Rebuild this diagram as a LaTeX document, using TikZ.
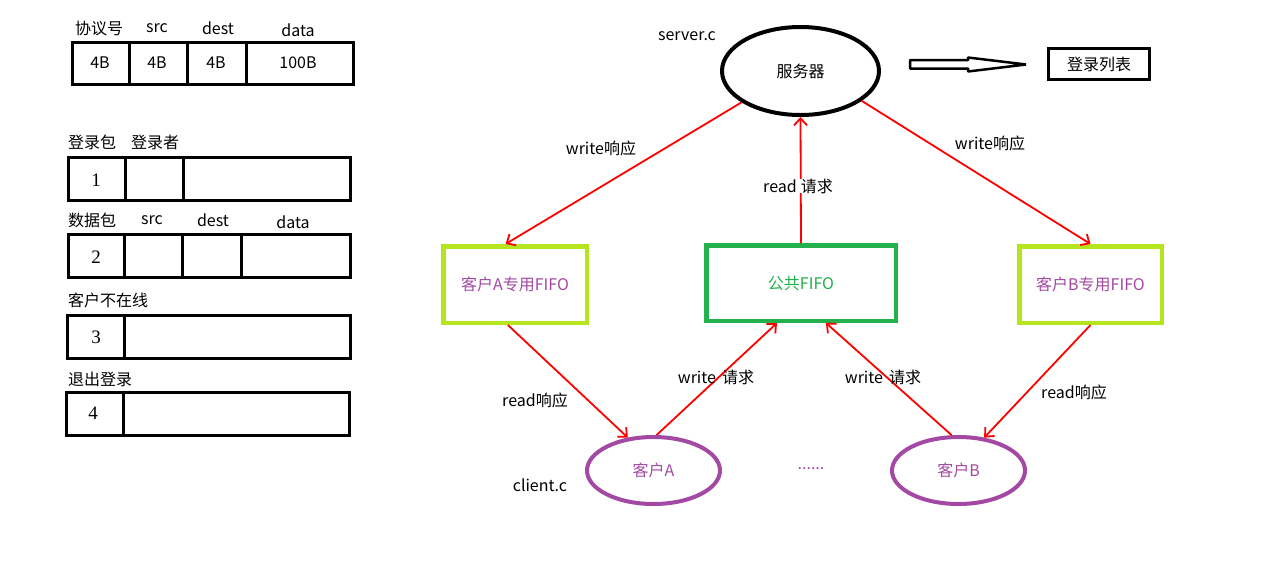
\documentclass[tikz,border=0pt]{standalone}
\usepackage{fontspec}
\setmainfont{Noto Sans CJK SC}
\newfontfamily\serifdigits{Liberation Serif}
\usetikzlibrary{shapes.geometric,arrows.meta}
\definecolor{plime}{HTML}{B5E61D}
\definecolor{pgreen}{HTML}{22B14C}
\definecolor{ppurple}{HTML}{A349A4}
\newcommand{\tabdigit}[1]{{\serifdigits\fontsize{19}{20}\selectfont #1}}
\begin{document}
\begin{tikzpicture}[x=1pt,y=-1pt,
  font=\fontsize{16}{18}\selectfont,
  txt/.style={inner sep=0pt, anchor=center},
  tbl/.style={line width=3pt, draw=black},
  redarr/.style={draw=red, line width=1.8pt, -{Straight Barb[length=7pt,width=13pt]}},
  fifo/.style={draw, line width=4.5pt, minimum height=76.5pt, inner sep=0pt},
  client/.style={ellipse, draw=ppurple, line width=4pt, minimum width=133pt, minimum height=67pt, text=ppurple, inner sep=0pt}]
\useasboundingbox[fill=white] (0,0) rectangle (1262,574);

% ---------- header table ----------
\draw[tbl] (72,42) rectangle (353,84);
\draw[tbl] (129,42) -- (129,84) (187,42) -- (187,84) (246,42) -- (246,84);
\node[txt] (h1) at (99,28) {协议号};
\node[txt] (h2) at (157,28) {src};
\node[txt] (h3) at (218,28) {dest};
\node[txt] (h4) at (298,30) {data};
\node[txt] (v1) at (100,63) {4B};
\node[txt] (v2) at (157,63) {4B};
\node[txt] (v3) at (216,63) {4B};
\node[txt] (v4) at (298,63) {100B};

% ---------- login packet ----------
\node[txt] (l1) at (92,142) {登录包};
\node[txt] (l2) at (155,142) {登录者};
\draw[tbl] (68,157) rectangle (350,200);
\draw[tbl] (125,157) -- (125,200) (183,157) -- (183,200);
\node[txt] (n1) at (96,180) {\tabdigit{1}};

% ---------- data packet ----------
\node[txt] (d1) at (92,220) {数据包};
\node[txt] (d2) at (152,220) {src};
\node[txt] (d3) at (213,220) {dest};
\node[txt] (d4) at (293,222) {data};
\draw[tbl] (68,234) rectangle (350,277);
\draw[tbl] (124,234) -- (124,277) (182,234) -- (182,277) (241,234) -- (241,277);
\node[txt] (n2) at (96,257) {\tabdigit{2}};

% ---------- client offline ----------
\node[txt] (o1) at (108,300) {客户不在线};
\draw[tbl] (67,315) rectangle (350,358);
\draw[tbl] (124,315) -- (124,358);
\node[txt] (n3) at (96,337) {\tabdigit{3}};

% ---------- logout ----------
\node[txt] (q1) at (100,379) {退出登录};
\draw[tbl] (66,392) rectangle (349,435);
\draw[tbl] (123,392) -- (123,435);
\node[txt] (n4) at (93,413) {\tabdigit{4}};

% ---------- server ----------
\node[ellipse, draw, line width=4pt, minimum width=157pt, minimum height=88pt, inner sep=0pt] (srv) at (800.5,71) {服务器};
\node[txt] (srvc) at (687,36) {server.c};
\draw[line width=2.5pt, fill=white, line join=bevel]
  (910,60) -- (968,60) -- (968,57.5) -- (1026,64.5) -- (968,71.5) -- (968,68.5) -- (910,68.5) -- cycle;
\node[draw, line width=3pt, minimum width=101pt, minimum height=31pt, inner sep=0pt] (list) at (1099,64) {登录列表};

% ---------- FIFOs ----------
\node[fifo, draw=plime, minimum width=143.5pt, text=ppurple] (fa) at (515,284.5) {客户A专用FIFO};
\node[fifo, draw=pgreen, minimum width=189.5pt, minimum height=75.5pt, text=pgreen] (pub) at (801,283) {公共FIFO};
\node[fifo, draw=plime, minimum width=142.5pt, text=ppurple] (fb) at (1090.5,284.5) {客户B专用FIFO};

% ---------- clients ----------
\node[client] (ca) at (653.5,470.5) {客户A};
\node[client] (cb) at (958.5,470.5) {客户B};
\node[txt, text=ppurple] (dots) at (811,469) {......};
\node[txt] (clic) at (540,485) {client.c};

% ---------- connectors ----------
\draw[redarr] (srv.208) -- (fa.103);
\draw[redarr] (srv.-26) -- (fb.north);
\draw[redarr] (pub.north) -- (srv.south);
\draw[redarr] (fa.260) -- (ca.128);
\draw[redarr] (ca.85) -- (pub.239);
\draw[redarr] (cb.101) -- (pub.-58);
\draw[redarr] (fb.south) -- (cb.52);

% ---------- connector labels ----------
\node[txt] (w1) at (601,148) {write响应};
\node[txt] (w2) at (990,143) {write响应};
\node[txt, fill=white, inner xsep=1pt] (r1) at (798,186) {read\hspace{4pt}请求};
\node[txt] (r2) at (535,400) {read响应};
\node[txt] (w3) at (716,377) {write\hspace{6pt}请求};
\node[txt] (w4) at (883,377) {write\hspace{6pt}请求};
\node[txt] (r3) at (1074,392) {read响应};
\end{tikzpicture}
\end{document}
